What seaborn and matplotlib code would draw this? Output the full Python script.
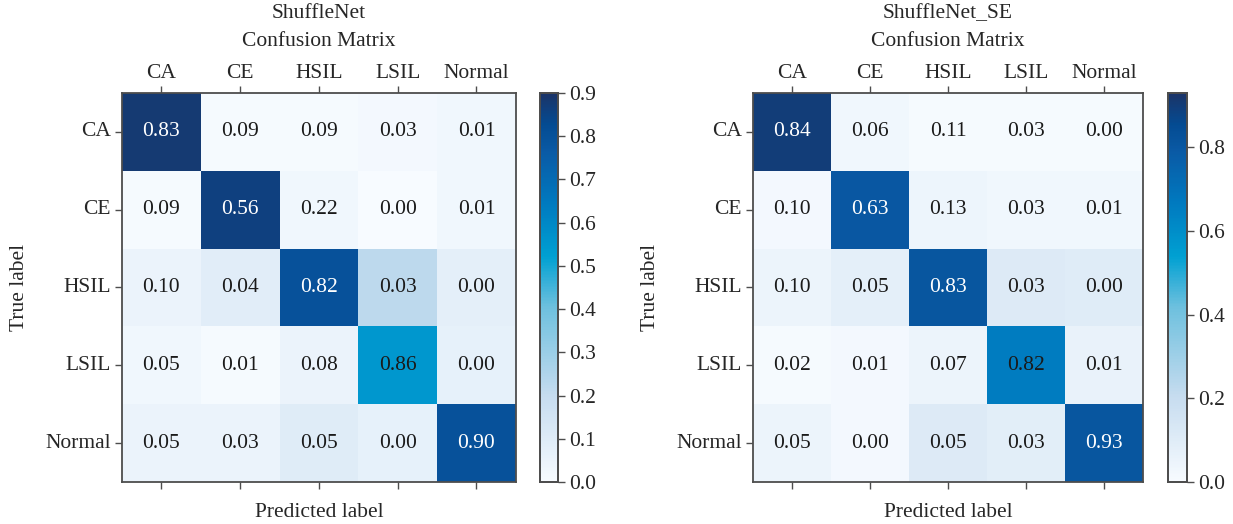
import numpy as np
import pandas as pd
import matplotlib
matplotlib.use("Agg")
import matplotlib.pyplot as plt
import seaborn as sns
from matplotlib.colors import LinearSegmentedColormap

classes = ["CA", "CE", "HSIL", "LSIL", "Normal"]

# printed values in each cell
shufflenet_vals = [
    [0.83, 0.09, 0.09, 0.03, 0.01],
    [0.09, 0.56, 0.22, 0.00, 0.01],
    [0.10, 0.04, 0.82, 0.03, 0.00],
    [0.05, 0.01, 0.08, 0.86, 0.00],
    [0.05, 0.03, 0.05, 0.00, 0.90],
]
shufflenet_se_vals = [
    [0.84, 0.06, 0.11, 0.03, 0.00],
    [0.10, 0.63, 0.13, 0.03, 0.01],
    [0.10, 0.05, 0.83, 0.03, 0.00],
    [0.02, 0.01, 0.07, 0.82, 0.01],
    [0.05, 0.00, 0.05, 0.03, 0.93],
]

# cell shading as read from the colour of each cell (does not follow the printed numbers)
shufflenet_shade = [
    [0.88, 0.01, 0.01, 0.02, 0.03],
    [0.01, 0.86, 0.03, 0.00, 0.03],
    [0.05, 0.09, 0.80, 0.22, 0.08],
    [0.03, 0.01, 0.05, 0.55, 0.07],
    [0.05, 0.05, 0.10, 0.07, 0.80],
]
shufflenet_se_shade = [
    [0.90, 0.03, 0.01, 0.01, 0.01],
    [0.02, 0.80, 0.04, 0.03, 0.03],
    [0.05, 0.08, 0.81, 0.11, 0.10],
    [0.01, 0.02, 0.05, 0.66, 0.06],
    [0.05, 0.02, 0.11, 0.09, 0.81],
]

cmap = LinearSegmentedColormap.from_list("cm_blues", [
    (0.00, "#f7fbff"),
    (0.22, "#c6dcef"),
    (0.45, "#6dc0de"),
    (0.58, "#00a0d2"),
    (0.72, "#0079bf"),
    (0.85, "#0a5aa5"),
    (0.92, "#044b92"),
    (1.00, "#1b3468"),
])

sns.set_style("white")
plt.rcParams['font.family'] = ['Liberation Serif', 'DejaVu Serif']
fs = 15.5

fig = plt.figure(figsize=(12.33, 5.24), dpi=100)

panels = [
    ("ShuffleNet", shufflenet_vals, shufflenet_shade, 0.9, np.arange(0, 0.91, 0.1),
     [0.0989, 0.0802, 0.3195, 0.7424], [0.438, 0.0802, 0.0145, 0.7424]),
    ("ShuffleNet_SE", shufflenet_se_vals, shufflenet_se_shade, 0.93, np.arange(0, 0.81, 0.2),
     [0.6107, 0.0802, 0.3163, 0.7424], [0.9473, 0.0802, 0.0150, 0.7424]),
]

edge = "#4d4d4d"

for name, vals, shade, vmax, cticks, pos, cpos in panels:
    ax = fig.add_axes(pos)
    cax = fig.add_axes(cpos)
    shade_df = pd.DataFrame(shade, index=classes, columns=classes)
    labels = np.array([[f"{v:.2f}" for v in row] for row in vals])
    sns.heatmap(shade_df, ax=ax, cbar_ax=cax, cmap=cmap, vmin=0, vmax=vmax,
                annot=labels, fmt="", annot_kws={"fontsize": fs}, square=False)
    # text colour follows the darkness of the cell
    flat = np.array(shade).ravel()
    for t, s in zip(ax.texts, flat):
        t.set_color("white" if s > 0.7 else "#1a1a1a")

    ax.xaxis.tick_top()
    ax.xaxis.set_label_position("bottom")
    ax.tick_params(axis="x", top=True, bottom=True, labeltop=True, labelbottom=False,
                   length=5, width=1, color=edge, labelsize=fs, pad=2)
    ax.tick_params(axis="y", left=True, length=5, width=1, color=edge, labelsize=fs,
                   rotation=0, pad=3)
    ax.set_xlabel("Predicted label", fontsize=fs, labelpad=10)
    ax.set_ylabel("True label", fontsize=fs, labelpad=12)
    ax.set_title(f"{name}\nConfusion Matrix", fontsize=fs, pad=34, linespacing=1.65)
    for sp in ax.spines.values():
        sp.set_visible(True)
        sp.set_color(edge)
        sp.set_linewidth(1.3)

    cax.set_yticks(cticks)
    cax.set_yticklabels([f"{v:.1f}" for v in cticks])
    cax.tick_params(axis="y", length=5, width=1, color=edge, labelsize=fs, pad=3)
    for sp in cax.spines.values():
        sp.set_visible(True)
        sp.set_color(edge)
        sp.set_linewidth(1.3)

fig.savefig("out.png", dpi=100)
